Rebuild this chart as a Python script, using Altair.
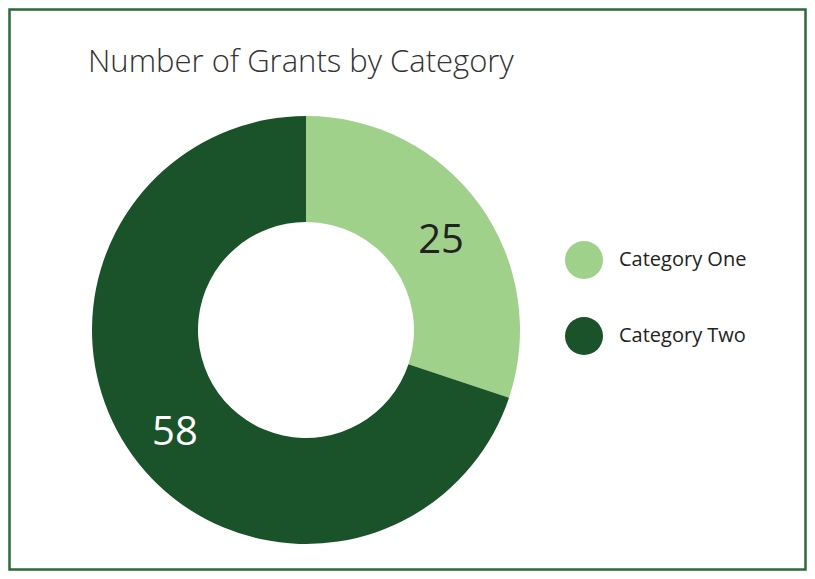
import altair as alt
import pandas as pd

categories = ["Category One", "Category Two"]
values = [25, 58]
colors = ["#9fd18b", "#1a5229"]
label_colors = ["#222222", "#ffffff"]

df = pd.DataFrame({"category": categories, "value": values,
                   "order": [0, 1]})

cx, cy = 298, 322

base = alt.Chart(df).encode(
    theta=alt.Theta("value:Q", stack=True),
    order=alt.Order("order:Q"),
)

arcs = base.mark_arc(outerRadius=214, innerRadius=108, stroke=None).encode(
    x=alt.value(cx), y=alt.value(cy),
    color=alt.Color(
        "category:N",
        scale=alt.Scale(domain=categories, range=colors),
        legend=alt.Legend(
            title=None, orient="none", legendX=557, legendY=233,
            symbolType="circle", symbolSize=1444, symbolStrokeWidth=0,
            labelFont="Open Sans", labelFontSize=20, labelColor="#222222",
            labelOffset=16, rowPadding=38, padding=0,
        ),
    ),
)

labels = base.mark_text(radius=164, font="Open Sans", fontSize=40,
                        align="center", baseline="middle", dy=7, dx=2).encode(
    x=alt.value(cx), y=alt.value(cy),
    text="value:Q",
    color=alt.Color("category:N",
                    scale=alt.Scale(domain=categories, range=label_colors),
                    legend=None),
)

frame = alt.Chart(pd.DataFrame({"a": [0]})).mark_rect(
    fill=None, stroke="#2d6a3a", strokeWidth=2.5
).encode(x=alt.value(1.5), x2=alt.value(797.5), y=alt.value(1.5), y2=alt.value(561.5))

chart = alt.layer(frame, arcs, labels).resolve_scale(color="independent").properties(
    width=799, height=563, padding=0,
    autosize=alt.AutoSizeParams(type="none"),
    title=alt.Title("Number of Grants by Category", anchor="start", orient="top",
                    offset=-71, dx=80, font="Open Sans", fontSize=31,
                    fontWeight=300, color="#333333"),
).configure_view(stroke=None)

chart.save("out.html", embed_options={"renderer": "svg", "actions": False})
